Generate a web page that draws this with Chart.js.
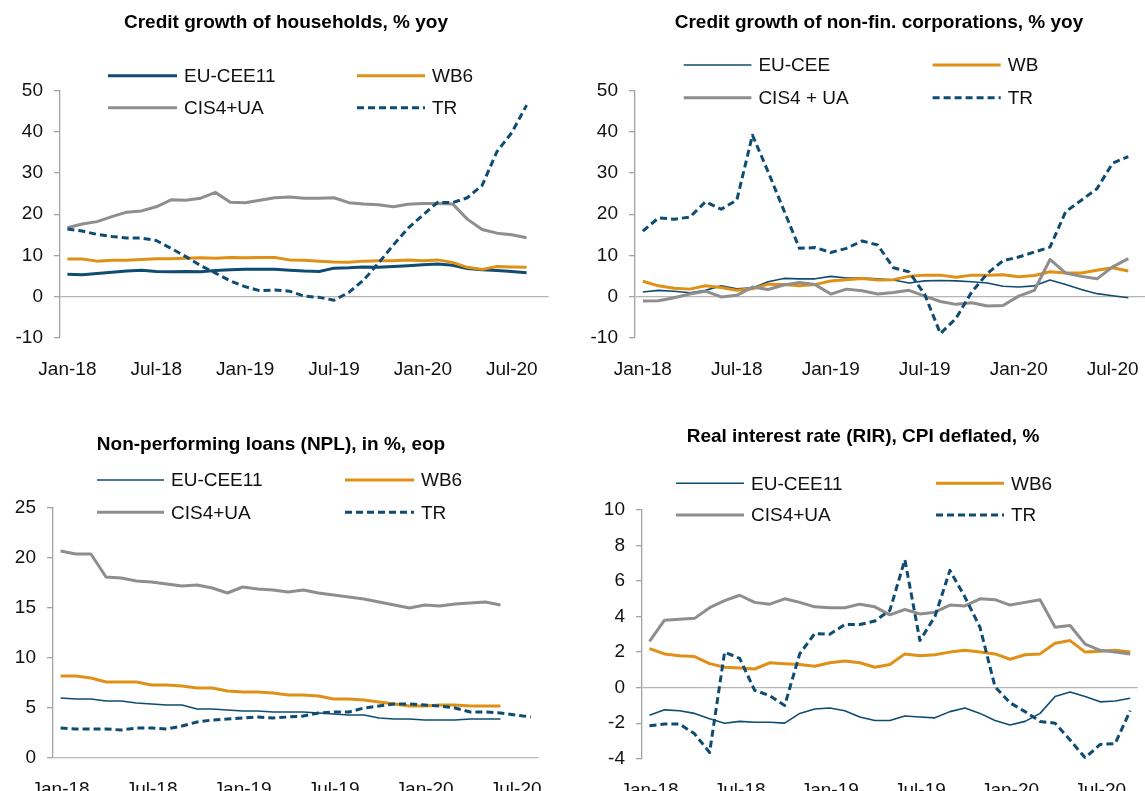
<!DOCTYPE html>
<html>
<head>
<meta charset="utf-8">
<script src="https://cdn.jsdelivr.net/npm/chart.js@4.4.0/dist/chart.umd.min.js"></script>
<style>
    html, body { margin: 0; padding: 0; background: #fff; overflow: hidden; width: 1145px; height: 791px; }
    canvas { position: absolute; }
</style>
</head>
<body>
<canvas id="c1" width="572" height="400" style="left:0;top:0"></canvas>
<canvas id="c2" width="600" height="400" style="left:572px;top:0"></canvas>
<canvas id="c3" width="572" height="400" style="left:0;top:400px"></canvas>
<canvas id="c4" width="600" height="400" style="left:572px;top:400px"></canvas>
<script>
// months shown on the category axis (every 6th label printed)
const months = [
    'Jan-18', 'Feb-18', 'Mar-18', 'Apr-18', 'May-18', 'Jun-18', 'Jul-18', 'Aug-18', 'Sep-18', 'Oct-18', 'Nov-18', 'Dec-18',
    'Jan-19', 'Feb-19', 'Mar-19', 'Apr-19', 'May-19', 'Jun-19', 'Jul-19', 'Aug-19', 'Sep-19', 'Oct-19', 'Nov-19', 'Dec-19',
    'Jan-20', 'Feb-20', 'Mar-20', 'Apr-20', 'May-20', 'Jun-20', 'Jul-20', 'Aug-20', 'Sep-20'
];

// Credit growth of households, % yoy
const hhEuCee = [5.4, 5.3, 5.6, 5.9, 6.2, 6.4, 6.1, 6.0, 6.1, 6.0, 6.3, 6.5, 6.6, 6.6, 6.6, 6.4, 6.2, 6.1, 6.9, 7.0, 7.2, 7.1, 7.3, 7.5, 7.7, 7.9, 7.6, 6.8, 6.5, 6.3, 6.1, 5.8];
const hhWb = [9.1, 9.1, 8.6, 8.8, 8.8, 9.0, 9.2, 9.2, 9.3, 9.4, 9.3, 9.5, 9.4, 9.5, 9.5, 8.9, 8.8, 8.6, 8.4, 8.3, 8.6, 8.7, 8.7, 8.9, 8.7, 8.9, 8.3, 7.1, 6.6, 7.3, 7.2, 7.1];
const hhCis = [16.7, 17.6, 18.2, 19.4, 20.5, 20.8, 21.8, 23.5, 23.4, 23.9, 25.3, 22.9, 22.8, 23.4, 24.0, 24.2, 23.9, 23.9, 24.0, 22.8, 22.5, 22.3, 21.8, 22.4, 22.6, 22.6, 22.5, 18.8, 16.3, 15.4, 15.0, 14.3];
const hhTr = [16.4, 15.9, 15.1, 14.6, 14.2, 14.2, 13.6, 11.7, 9.7, 7.5, 5.7, 3.8, 2.4, 1.4, 1.6, 1.3, 0.1, -0.2, -0.9, 1.0, 4.0, 8.1, 12.5, 16.6, 19.8, 22.9, 22.8, 24.0, 27.0, 35.2, 39.8, 46.5];

// Credit growth of non-fin. corporations, % yoy
const nfcEuCee = [1.1, 1.5, 1.3, 0.9, 1.5, 2.6, 1.9, 2.1, 3.6, 4.4, 4.3, 4.3, 4.9, 4.5, 4.5, 4.3, 4.0, 3.3, 3.8, 3.9, 3.8, 3.6, 3.3, 2.5, 2.3, 2.6, 4.0, 2.9, 1.7, 0.7, 0.2, -0.3];
const nfcWb = [3.7, 2.6, 2.0, 1.8, 2.6, 2.2, 1.5, 1.9, 3.0, 2.9, 2.6, 2.9, 3.8, 4.1, 4.4, 4.0, 4.1, 4.9, 5.2, 5.2, 4.7, 5.2, 5.2, 5.3, 4.8, 5.1, 6.0, 5.7, 5.7, 6.4, 7.0, 6.2];
const nfcCis = [-1.1, -1.0, -0.3, 0.6, 1.3, -0.1, 0.3, 2.3, 1.7, 2.8, 3.4, 2.9, 0.6, 1.8, 1.4, 0.6, 1.0, 1.5, 0.1, -1.2, -1.9, -1.5, -2.3, -2.2, 0.1, 1.5, 9.0, 5.7, 4.9, 4.3, 7.2, 9.2];
const nfcTr = [15.9, 19.1, 18.8, 19.3, 23.0, 21.2, 23.4, 39.2, 30.3, 21.0, 11.7, 11.9, 10.7, 11.7, 13.5, 12.5, 7.0, 6.0, 0.5, -9.0, -5.3, 1.1, 5.6, 8.7, 9.6, 10.8, 12.0, 20.6, 23.4, 26.2, 32.4, 34.0];

// Non-performing loans (NPL), in %, eop
const nplEuCee = [6.0, 5.9, 5.9, 5.7, 5.7, 5.5, 5.4, 5.3, 5.3, 4.9, 4.9, 4.8, 4.7, 4.7, 4.6, 4.6, 4.6, 4.5, 4.4, 4.3, 4.3, 4.0, 3.9, 3.9, 3.8, 3.8, 3.8, 3.9, 3.9, 3.9];
const nplWb = [8.2, 8.2, 8.0, 7.6, 7.6, 7.6, 7.3, 7.3, 7.2, 7.0, 7.0, 6.7, 6.6, 6.6, 6.5, 6.3, 6.3, 6.2, 5.9, 5.9, 5.8, 5.6, 5.4, 5.2, 5.2, 5.3, 5.3, 5.2, 5.2, 5.2];
const nplCis = [20.7, 20.4, 20.4, 18.1, 18.0, 17.7, 17.6, 17.4, 17.2, 17.3, 17.0, 16.5, 17.1, 16.9, 16.8, 16.6, 16.8, 16.5, 16.3, 16.1, 15.9, 15.6, 15.3, 15.0, 15.3, 15.2, 15.4, 15.5, 15.6, 15.3];
const nplTr = [3.0, 2.9, 2.9, 2.9, 2.8, 3.0, 3.0, 2.9, 3.2, 3.6, 3.8, 3.9, 4.0, 4.1, 4.0, 4.1, 4.2, 4.5, 4.6, 4.6, 5.0, 5.2, 5.4, 5.4, 5.3, 5.2, 5.0, 4.6, 4.6, 4.5, 4.3, 4.1];

// Real interest rate (RIR), CPI deflated, %
const rirEuCee = [-1.55, -1.25, -1.3, -1.45, -1.75, -2.0, -1.9, -1.95, -1.95, -2.0, -1.45, -1.2, -1.15, -1.3, -1.65, -1.85, -1.85, -1.6, -1.65, -1.7, -1.35, -1.15, -1.45, -1.85, -2.1, -1.9, -1.45, -0.5, -0.25, -0.5, -0.8, -0.75, -0.6];
const rirWb = [2.2, 1.9, 1.8, 1.75, 1.35, 1.15, 1.1, 1.05, 1.4, 1.35, 1.3, 1.2, 1.4, 1.5, 1.4, 1.15, 1.3, 1.9, 1.8, 1.85, 2.0, 2.1, 2.0, 1.9, 1.6, 1.85, 1.9, 2.5, 2.65, 2.0, 2.05, 2.1, 2.0];
const rirCis = [2.6, 3.8, 3.85, 3.9, 4.5, 4.9, 5.2, 4.8, 4.7, 5.0, 4.8, 4.55, 4.5, 4.5, 4.7, 4.55, 4.1, 4.4, 4.15, 4.25, 4.65, 4.6, 5.0, 4.95, 4.65, 4.8, 4.95, 3.4, 3.5, 2.45, 2.1, 2.0, 1.9];
const rirTr = [-2.15, -2.05, -2.05, -2.6, -3.65, 2.0, 1.65, -0.15, -0.45, -1.0, 1.9, 3.05, 3.0, 3.55, 3.55, 3.75, 4.35, 7.2, 2.65, 4.0, 6.6, 5.1, 3.4, 0.05, -0.85, -1.35, -1.9, -2.0, -2.95, -3.95, -3.2, -3.15, -1.3];

const BLUE = '#0f4c72';
const ORANGE = '#df9016';
const GREY = '#8e8e8e';
const AXIS = '#a3a3a3';
const FONT = '"Liberation Sans", Arial, sans-serif';

Chart.defaults.font.family = FONT;
Chart.defaults.font.size = 19;
Chart.defaults.color = '#111';

// title + 2x2 legend drawn at fixed spots, styles taken from the datasets
const panelDecor = {
    id: 'panelDecor',
    afterDraw(chart, args, opts) {
        const ctx = chart.ctx;
        ctx.save();
        ctx.fillStyle = '#000';
        ctx.textBaseline = 'middle';
        ctx.textAlign = 'center';
        ctx.font = 'bold 19px ' + FONT;
        ctx.fillText(opts.title, opts.titleX, opts.titleY);

        ctx.font = '19px ' + FONT;
        ctx.textAlign = 'left';
        chart.data.datasets.forEach((ds, i) => {
            const col = opts.cols[i % 2];
            const y = opts.rows[Math.floor(i / 2)];
            ctx.beginPath();
            ctx.strokeStyle = ds.borderColor;
            ctx.lineWidth = ds.borderWidth;
            ctx.setLineDash(ds.borderDash || []);
            ctx.moveTo(col[0], y);
            ctx.lineTo(col[1], y);
            ctx.stroke();
            ctx.setLineDash([]);
            ctx.fillStyle = '#111';
            ctx.fillText(ds.label, col[1] + 7, y + 1);
        });
        ctx.restore();
    }
};

function series(label, data, color, width, dashed, order) {
    return {
        label: label,
        data: data,
        borderColor: color,
        borderWidth: width,
        borderDash: dashed ? [7, 4] : [],
        pointRadius: 0,
        tension: 0,
        fill: false,
        order: order,
        borderJoinStyle: 'round'
    };
}

function makeChart(id, cfg) {
    return new Chart(document.getElementById(id), {
        type: 'line',
        data: {
            labels: cfg.labels,
            datasets: cfg.datasets
        },
        options: {
            responsive: false,
            animation: false,
            events: [],
            layout: {
                padding: { left: 0, top: cfg.padTop, right: cfg.padRight, bottom: 0 }
            },
            scales: {
                x: {
                    type: 'category',
                    offset: true,
                    grid: { display: false },
                    border: { display: false },
                    ticks: {
                        autoSkip: false,
                        maxRotation: 0,
                        minRotation: 0,
                        padding: cfg.tickPad,
                        callback: (v, i) => (i % 6 === 0 ? cfg.labels[i] : '')
                    },
                    afterFit: (scale) => { scale.height = cfg.xHeight; }
                },
                y: {
                    min: cfg.yMin,
                    max: cfg.yMax,
                    ticks: { stepSize: cfg.step, padding: 11 },
                    grid: {
                        color: (c) => (c.tick && c.tick.value === 0 ? '#b5b5b5' : 'rgba(0,0,0,0)'),
                        tickColor: AXIS,
                        tickLength: 6,
                        lineWidth: 1.3
                    },
                    border: { display: true, color: AXIS, width: 1.3 },
                    afterFit: (scale) => { scale.width = cfg.yWidth; }
                }
            },
            plugins: {
                legend: { display: false },
                tooltip: { enabled: false },
                panelDecor: cfg.decor
            }
        },
        plugins: [panelDecor]
    });
}

makeChart('c1', {
    labels: months,
    yMin: -10, yMax: 50, step: 10,
    yWidth: 60, padTop: 90.7, padRight: 23.2, xHeight: 62.3, tickPad: 13,
    datasets: [
        series('EU-CEE11', hhEuCee, BLUE, 3, false, 2),
        series('WB6', hhWb, ORANGE, 3, false, 1),
        series('CIS4+UA', hhCis, GREY, 3, false, 3),
        series('TR', hhTr, BLUE, 3, true, 0)
    ],
    decor: {
        title: 'Credit growth of households, % yoy', titleX: 286, titleY: 23,
        rows: [75.7, 107.7], cols: [[108, 177], [357, 425]]
    }
});

makeChart('c2', {
    labels: months,
    yMin: -10, yMax: 50, step: 10,
    yWidth: 63, padTop: 90.7, padRight: 20.2, xHeight: 62.3, tickPad: 13,
    datasets: [
        series('EU-CEE', nfcEuCee, BLUE, 1.6, false, 3),
        series('WB', nfcWb, ORANGE, 3, false, 2),
        series('CIS4 + UA', nfcCis, GREY, 3, false, 1),
        series('TR', nfcTr, BLUE, 3, true, 0)
    ],
    decor: {
        title: 'Credit growth of non-fin. corporations, % yoy', titleX: 307, titleY: 23,
        rows: [65, 97.7], cols: [[111.7, 179.4], [360.6, 428.7]]
    }
});

makeChart('c3', {
    labels: months.slice(0, 32),
    yMin: 0, yMax: 25, step: 5,
    yWidth: 53, padTop: 108, padRight: 33.6, xHeight: 42, tickPad: 12.6,
    datasets: [
        series('EU-CEE11', nplEuCee, BLUE, 1.6, false, 3),
        series('WB6', nplWb, ORANGE, 3, false, 2),
        series('CIS4+UA', nplCis, GREY, 3, false, 1),
        series('TR', nplTr, BLUE, 3, true, 0)
    ],
    decor: {
        title: 'Non-performing loans (NPL), in %, eop', titleX: 271, titleY: 45,
        rows: [80, 112.3], cols: [[97, 164], [345, 414]]
    }
});

makeChart('c4', {
    labels: months,
    yMin: -4, yMax: 10, step: 2,
    yWidth: 70, padTop: 110, padRight: 34.3, xHeight: 41.3, tickPad: 13,
    datasets: [
        series('EU-CEE11', rirEuCee, BLUE, 1.6, false, 3),
        series('WB6', rirWb, ORANGE, 3, false, 2),
        series('CIS4+UA', rirCis, GREY, 3, false, 1),
        series('TR', rirTr, BLUE, 3, true, 0)
    ],
    decor: {
        title: 'Real interest rate (RIR), CPI deflated, %', titleX: 291, titleY: 37,
        rows: [83.3, 115], cols: [[104, 172], [364, 432]]
    }
});
</script>
</body>
</html>
